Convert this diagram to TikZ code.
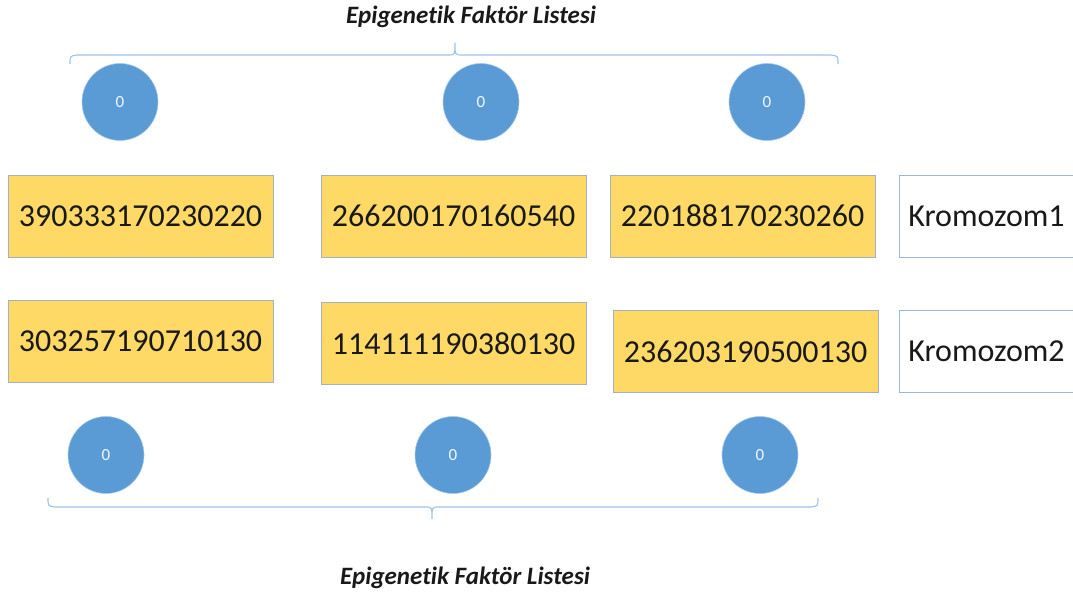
\documentclass[tikz,border=0pt]{standalone}
\usepackage{fontspec}
\setmainfont{Carlito}[Ligatures=NoCommon]
\usetikzlibrary{shapes.geometric}
\definecolor{geneFill}{HTML}{FFD966}
\definecolor{geneEdge}{HTML}{A3B1C2}
\definecolor{dotFill}{HTML}{5B9BD5}
\definecolor{dotEdge}{HTML}{A9C8E8}
\definecolor{braceCol}{HTML}{9DC3E6}
\definecolor{labelEdge}{HTML}{9FB6D0}
\tikzset{
  gene/.style={draw=geneEdge, line width=0.8pt, fill=geneFill, minimum width=265pt, minimum height=82pt,
    inner sep=0pt, font=\fontsize{32}{36}\selectfont, text=black!90},
  chrom/.style={draw=labelEdge, line width=0.8pt, fill=white, minimum width=190pt, minimum height=82pt,
    inner sep=0pt, text width=172pt, align=left, font=\fontsize{32}{36}\selectfont, text=black!90},
  factor/.style={ellipse, draw=dotEdge, line width=0.6pt, fill=dotFill, minimum width=76pt, minimum height=77pt,
    inner sep=0pt, text=white!92!dotFill, font=\fontsize{17}{19}\selectfont},
  listtitle/.style={font=\fontsize{25}{29}\selectfont\bfseries\itshape, text=black!90},
  bracket/.style={draw=braceCol, line width=1.1pt}
}
\begin{document}
\begin{tikzpicture}[x=1pt, y=-1pt]
  \useasboundingbox (0,0) rectangle (1073,594);

  % top list of factors
  \node[listtitle] (ttop) at (471,17) {Epigenetik Faktör Listesi};
  \coordinate (tl) at (70,64);
  \coordinate (tm) at (455,43);
  \coordinate (tr) at (838,64);
  \path[bracket] (tl) .. controls (70,56) .. (77,55) -- (448,55) .. controls (455,55) .. (tm)
                 (tm) .. controls (455,55) .. (462,55) -- (831,55) .. controls (838,56) .. (tr);
  \node[factor] (f1) at (120,102) {0};
  \node[factor] (f2) at (481,102) {0};
  \node[factor] (f3) at (767,102) {0};

  % chromosome 1
  \node[gene] (a1) at (140.5,216) {390333170230220};
  \node[gene] (a2) at (453.5,216) {266200170160540};
  \node[gene] (a3) at (742.5,216) {220188170230260};
  \node[chrom, anchor=west] (k1) at (899,216) {Kromozom1};

  % chromosome 2
  \node[gene] (b1) at (140.5,341.5) {303257190710130};
  \node[gene] (b2) at (453.5,343.5) {114111190380130};
  \node[gene] (b3) at (745.5,351.5) {236203190500130};
  \node[chrom, anchor=west] (k2) at (899,351.5) {Kromozom2};

  % bottom list of factors
  \node[factor] (g1) at (106,455) {0};
  \node[factor] (g2) at (453,455) {0};
  \node[factor] (g3) at (760,455) {0};
  \coordinate (bl) at (48,498);
  \coordinate (bm) at (432,519);
  \coordinate (br) at (818,498);
  \path[bracket] (bl) .. controls (48,506) .. (55,507) -- (425,507) .. controls (432,507) .. (bm)
                 (bm) .. controls (432,507) .. (439,507) -- (811,507) .. controls (818,506) .. (br);
  \node[listtitle] (tbot) at (465,578) {Epigenetik Faktör Listesi};
\end{tikzpicture}
\end{document}
